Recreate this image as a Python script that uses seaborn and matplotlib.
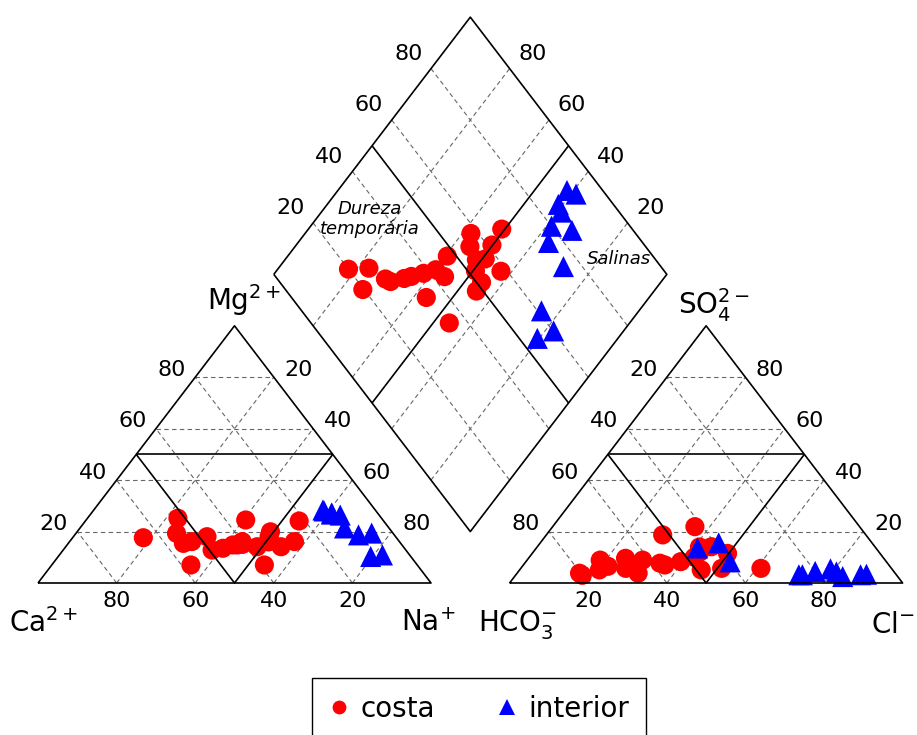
import numpy as np
import pandas as pd
import matplotlib
matplotlib.use("Agg")
import matplotlib.pyplot as plt
import seaborn as sns

# Costa samples: cation % (Na+, Mg2+) and anion % (HCO3-, SO4 2-)
costa_na = [18.0, 23.0, 25.6, 29.3, 31.1, 34.0, 35.4, 37.9, 43.3, 40.3, 43.9, 40.6,
            54.1, 42.2, 44.5, 48.7, 50.6, 50.8, 49.8, 49.2, 54.4, 57.2, 54.8]
costa_mg = [17.6, 25.2, 19.3, 15.4, 16.1, 18.0, 7.0, 12.8, 14.8, 13.5, 16.1, 24.5,
            7.0, 14.8, 15.0, 14.1, 16.0, 16.1, 18.0, 19.9, 24.1, 16.1, 14.1]
costa_hco3 = [80.0, 74.6, 80.3, 72.5, 71.7, 67.6, 65.4, 61.7, 65.7, 57.9, 57.0, 52.3,
              64.8, 41.9, 44.7, 45.6, 48.0, 43.2, 38.8, 33.2, 48.7, 41.6, 51.7]
costa_so4 = [3.0, 5.1, 3.8, 8.9, 6.5, 5.7, 3.8, 8.9, 9.6, 7.7, 7.0, 8.3,
             6.5, 21.9, 14.0, 12.0, 10.0, 5.7, 11.5, 5.7, 5.1, 14.1, 18.7]

# Interior samples
interior_na = [58.3, 61.3, 58.8, 61.1, 61.3, 67.3, 63.7, 72.2, 75.2, 82.2, 79.5]
interior_mg = [28.4, 27.0, 28.0, 27.2, 26.8, 21.4, 26.4, 18.7, 19.4, 10.9, 10.3]
interior_hco3 = [9.1, 7.5, 14.0, 14.7, 20.0, 15.6, 23.9, 24.8, 39.0, 39.8, 45.4]
interior_so4 = [3.2, 3.4, 2.5, 4.3, 4.5, 5.5, 3.2, 3.2, 15.6, 8.2, 13.6]

groups = ["costa", "interior"]
grid_levels = [20, 40, 60, 80]

H = np.sqrt(3) / 2
GAP = 20  # horizontal gap between the two triangles


def cation_xy(na, mg):
    na, mg = np.asarray(na), np.asarray(mg)
    return na + mg / 2, mg * H


def anion_xy(hco3, so4):
    hco3, so4 = np.asarray(hco3), np.asarray(so4)
    cl = 100 - hco3 - so4
    return 100 + GAP + cl + so4 / 2, so4 * H


def diamond_xy(na, hco3):
    na, hco3 = np.asarray(na), np.asarray(hco3)
    return (220 + na - hco3) / 2, H * (220 - na - hco3)


rows = []
for name, na, mg, hco3, so4 in [
    ("costa", costa_na, costa_mg, costa_hco3, costa_so4),
    ("interior", interior_na, interior_mg, interior_hco3, interior_so4),
]:
    for fx in (cation_xy(na, mg), anion_xy(hco3, so4), diamond_xy(na, hco3)):
        for x, y in zip(*fx):
            rows.append({"x": x, "y": y, "grupo": name})
df = pd.DataFrame(rows)

fig = plt.figure(figsize=(9.17, 7.35), dpi=100)
ax = fig.add_axes([0, 0, 1, 1])
ax.set_xlim(-9.67, 223.66)
ax.set_ylim(-51.18, 196.3)
ax.axis("off")

solid = dict(color="black", lw=1.2, zorder=4, solid_capstyle="butt")
dashed = dict(color="#666666", lw=0.8, ls=(0, (4, 3)), zorder=2)

# --- triangles -------------------------------------------------------------
for x0 in (0, 100 + GAP):
    ax.plot([x0, x0 + 100, x0 + 50, x0], [0, 0, 100 * H, 0], **solid)
    for k in grid_levels:
        ax.plot([x0 + k / 2, x0 + 100 - k / 2], [k * H, k * H], **dashed)
        ax.plot([x0 + k, x0 + k + (100 - k) / 2], [0, (100 - k) * H], **dashed)
        ax.plot([x0 + 100 - k, x0 + (100 - k) / 2], [0, (100 - k) * H], **dashed)
    # facies boundaries
    ax.plot([x0 + 25, x0 + 75], [50 * H, 50 * H], **solid)
    ax.plot([x0 + 25, x0 + 50, x0 + 75], [50 * H, 0, 50 * H], **solid)

# --- diamond ---------------------------------------------------------------
dx = [60, 110, 160, 110, 60]
dy = [120 * H, 220 * H, 120 * H, 20 * H, 120 * H]
ax.plot(dx, dy, **solid)
for k in grid_levels:
    ax.plot([60 + k / 2, 110 + k / 2], [H * (120 - k), H * (220 - k)], **dashed)
    ax.plot([(220 - k) / 2, (320 - k) / 2], [H * (220 - k), H * (120 - k)], **dashed)
ax.plot([85, 135], [H * 70, H * 170], **solid)
ax.plot([85, 135], [H * 170, H * 70], **solid)

# --- points ----------------------------------------------------------------
sns.scatterplot(
    data=df, x="x", y="y", hue="grupo", style="grupo", size="grupo",
    hue_order=groups, style_order=groups, size_order=groups,
    palette={"costa": "red", "interior": "blue"},
    markers={"costa": "o", "interior": "^"},
    sizes={"costa": 190, "interior": 230},
    linewidth=0, ax=ax, zorder=3, legend="full",
)

# --- tick labels -----------------------------------------------------------
tick_fs = 16
for k in grid_levels:
    # cation triangle
    ax.text(k, -6.1, str(100 - k), ha="center", va="center", fontsize=tick_fs)
    ax.text(k / 2 - 6.0, k * H + 2.5, str(k), ha="center", va="center", fontsize=tick_fs)
    ax.text(k + (100 - k) / 2 + 6.3, (100 - k) * H + 2.5, str(k),
            ha="center", va="center", fontsize=tick_fs)
    # anion triangle
    x0 = 100 + GAP
    ax.text(x0 + k, -6.1, str(k), ha="center", va="center", fontsize=tick_fs)
    ax.text(x0 + (100 - k) / 2 - 6.0, (100 - k) * H + 2.5, str(k),
            ha="center", va="center", fontsize=tick_fs)
    ax.text(x0 + 100 - k / 2 + 6.3, k * H + 2.5, str(k),
            ha="center", va="center", fontsize=tick_fs)
    # diamond
    ax.text((120 + k) / 2 - 5.8, H * (120 + k) + 5.0, str(k),
            ha="center", va="center", fontsize=tick_fs)
    ax.text((320 - k) / 2 + 5.8, H * (120 + k) + 5.0, str(k),
            ha="center", va="center", fontsize=tick_fs)

# --- ion names ---------------------------------------------------------------
ion_fs = 20
ax.text(1.3, -13.5, r"Ca$^{2+}$", ha="center", va="center", fontsize=ion_fs)
ax.text(99.3, -13.5, r"Na$^{+}$", ha="center", va="center", fontsize=ion_fs)
ax.text(52.4, 95.3, r"Mg$^{2+}$", ha="center", va="center", fontsize=ion_fs)
ax.text(121.9, -14.0, r"HCO$_3^{-}$", ha="center", va="center", fontsize=ion_fs)
ax.text(217.6, -14.0, r"Cl$^{-}$", ha="center", va="center", fontsize=ion_fs)
ax.text(172.0, 93.6, r"SO$_4^{2-}$", ha="center", va="center", fontsize=ion_fs)

# --- water type annotations ------------------------------------------------
ax.text(84.5, 122.6, "Dureza\ntemporária", ha="center", va="center",
        fontsize=13, style="italic", linespacing=1.15)
ax.text(147.8, 109.1, "Salinas", ha="center", va="center",
        fontsize=13, style="italic")

# --- legend ------------------------------------------------------------------
old = ax.get_legend()
handles = list(old.legend_handles)
labels = [t.get_text() for t in old.get_texts()]
old.remove()
keep = [i for i, lab in enumerate(labels) if lab in groups]
handles = [handles[i] for i in keep]
labels = [labels[i] for i in keep]
leg = ax.legend(
    handles, labels, ncol=2, loc="upper center",
    bbox_to_anchor=(479 / 917, 1 - 678 / 735), bbox_transform=fig.transFigure,
    borderaxespad=0, borderpad=0.6, fontsize=20, markerscale=0.72,
    handlelength=0.75, handletextpad=0.42, columnspacing=2.2,
    frameon=True, fancybox=False, edgecolor="black", framealpha=1,
)
leg.get_frame().set_linewidth(1.0)

fig.savefig("out.png", dpi=100)
